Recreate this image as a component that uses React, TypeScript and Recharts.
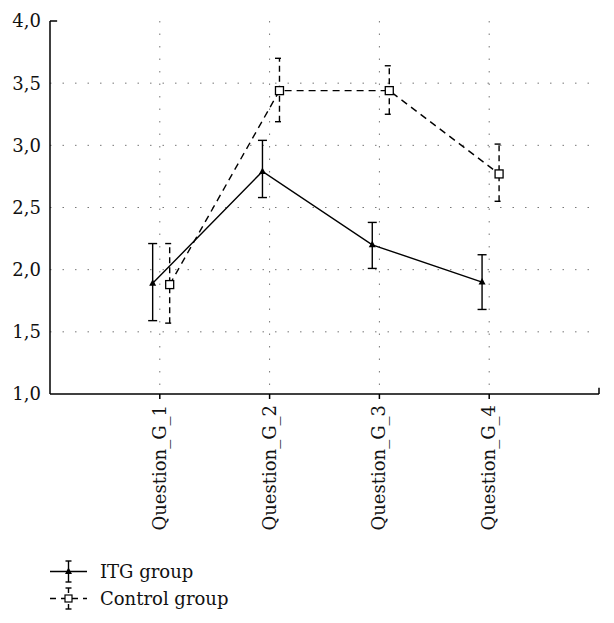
import {
  LineChart,
  Line,
  XAxis,
  YAxis,
  CartesianGrid,
  ErrorBar,
  Legend,
  ReferenceLine,
} from 'recharts';

const categories = ['Question_G_1', 'Question_G_2', 'Question_G_3', 'Question_G_4'];
const yTicks = [1.0, 1.5, 2.0, 2.5, 3.0, 3.5, 4.0];

// ITG group: means and confidence bounds
const itgMean = [1.89, 2.79, 2.2, 1.9];
const itgLow = [1.59, 2.58, 2.01, 1.68];
const itgHigh = [2.21, 3.04, 2.38, 2.12];

// Control group
const ctrlMean = [1.88, 3.44, 3.44, 2.77];
const ctrlLow = [1.57, 3.19, 3.25, 2.55];
const ctrlHigh = [2.21, 3.7, 3.64, 3.01];

const FONT = "'DejaVu Serif', serif";
const FS = 18;

// small horizontal shift so the two groups don't overlap
const build = (mean: number[], low: number[], high: number[], shift: number) =>
  mean.map((m, i) => ({
    x: i + 1 + shift,
    y: m,
    err: [m - low[i], high[i] - m],
  }));

const itgData = build(itgMean, itgLow, itgHigh, -0.065);
const ctrlData = build(ctrlMean, ctrlLow, ctrlHigh, 0.09);

const TriangleDot = (props: any) => {
  const { cx, cy } = props;
  if (cx == null || cy == null) return null;
  return <path d={`M${cx},${cy - 4} L${cx + 3.5},${cy + 2.5} L${cx - 3.5},${cy + 2.5} Z`} fill="#000" />;
};

const SquareDot = (props: any) => {
  const { cx, cy } = props;
  if (cx == null || cy == null) return null;
  return <rect x={cx - 4} y={cy - 4} width={8} height={8} fill="#fff" stroke="#000" strokeWidth={1.3} />;
};

const CategoryTick = (props: any) => {
  const { x, y, payload } = props;
  return (
    <g transform={`translate(${x},${y + 4})`}>
      <text
        transform="rotate(-90)"
        textAnchor="end"
        dy="0.33em"
        fontSize={FS}
        fontFamily={FONT}
        fill="#111"
      >
        {categories[payload.value - 1]}
      </text>
    </g>
  );
};

const LegendContent = () => (
  <div style={{ fontFamily: FONT, fontSize: FS, color: '#111' }}>
    <div style={{ display: 'flex', alignItems: 'center', height: 27 }}>
      <svg width={50} height={27}>
        <line x1={0} y1={13.5} x2={37} y2={13.5} stroke="#000" strokeWidth={1.4} />
        <line x1={18.5} y1={3} x2={18.5} y2={24} stroke="#000" strokeWidth={1.4} />
        <line x1={15.5} y1={3} x2={21.5} y2={3} stroke="#000" strokeWidth={1.4} />
        <line x1={15.5} y1={24} x2={21.5} y2={24} stroke="#000" strokeWidth={1.4} />
        <path d="M18.5,9.5 L22,16 L15,16 Z" fill="#000" />
      </svg>
      <span>ITG group</span>
    </div>
    <div style={{ display: 'flex', alignItems: 'center', height: 27 }}>
      <svg width={50} height={27}>
        <line x1={0} y1={13.5} x2={37} y2={13.5} stroke="#000" strokeWidth={1.4} strokeDasharray="6 5" />
        <line x1={18.5} y1={3} x2={18.5} y2={24} stroke="#000" strokeWidth={1.4} strokeDasharray="5 3" />
        <line x1={15.5} y1={3} x2={21.5} y2={3} stroke="#000" strokeWidth={1.4} />
        <line x1={15.5} y1={24} x2={21.5} y2={24} stroke="#000" strokeWidth={1.4} />
        <rect x={15} y={10} width={7} height={7} fill="#fff" stroke="#000" strokeWidth={1.2} />
      </svg>
      <span>Control group</span>
    </div>
  </div>
);

const App = () => {
  return (
    <div style={{ position: 'absolute', left: 0, top: 0, background: '#fff' }}>
      <LineChart width={614} height={623} margin={{ top: 21, right: 15, left: 0, bottom: 11 }}>
        <CartesianGrid
          stroke="#777"
          strokeDasharray="1.5 11"
          horizontalValues={[1.5, 2.0, 2.5, 3.0, 3.5]}
          verticalValues={[1, 2, 3, 4]}
        />
        <XAxis
          type="number"
          dataKey="x"
          domain={[0, 5]}
          ticks={[1, 2, 3, 4]}
          height={164}
          tick={<CategoryTick />}
          tickSize={5}
          axisLine={{ stroke: '#000', strokeWidth: 1.5 }}
          tickLine={{ stroke: '#000', strokeWidth: 1.5 }}
          interval={0}
        />
        <YAxis
          type="number"
          domain={[1, 4]}
          ticks={yTicks}
          width={50}
          tickFormatter={(v: number) => v.toFixed(1).replace('.', ',')}
          tick={{ fontSize: FS, fill: '#111', fontFamily: FONT }}
          tickLine={false}
          tickSize={6}
          tickMargin={3}
          axisLine={{ stroke: '#000', strokeWidth: 1.5 }}
        />
        <ReferenceLine
          segment={[{ x: 0, y: 4 }, { x: 0.065, y: 4 }]}
          stroke="#000"
          strokeWidth={1.5}
        />
        <ReferenceLine
          segment={[{ x: 5, y: 1 }, { x: 5, y: 1.05 }]}
          stroke="#000"
          strokeWidth={1.5}
        />
        <Legend
          verticalAlign="bottom"
          align="left"
          content={<LegendContent />}
          wrapperStyle={{ left: 50, width: 300, height: 54 }}
        />
        <Line
          data={itgData}
          dataKey="y"
          name="ITG group"
          stroke="#000"
          strokeWidth={1.4}
          dot={<TriangleDot />}
          activeDot={false}
          isAnimationActive={false}
        >
          <ErrorBar dataKey="err" direction="y" width={4.5} stroke="#000" strokeWidth={1.4} />
        </Line>
        <Line
          data={ctrlData}
          dataKey="y"
          name="Control group"
          stroke="#000"
          strokeWidth={1.4}
          strokeDasharray="7 5"
          dot={<SquareDot />}
          activeDot={false}
          isAnimationActive={false}
        >
          <ErrorBar
            dataKey="err"
            direction="y"
            width={4.5}
            stroke="#000"
            strokeWidth={1.4}
            strokeDasharray="6 4"
          />
        </Line>
      </LineChart>
    </div>
  );
};

export default App;
